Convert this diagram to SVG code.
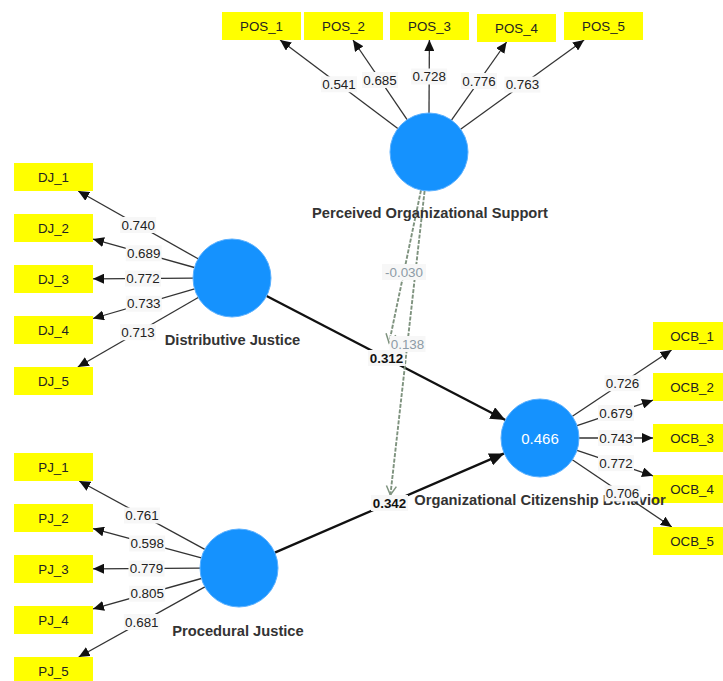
<svg xmlns="http://www.w3.org/2000/svg" width="723" height="681" viewBox="0 0 723 681">
<style>
.ind rect{fill:#ffff00}
.ind text{font-family:"Liberation Sans",Arial,sans-serif;font-size:13.3px;fill:#222;text-anchor:middle}
.lat circle{fill:#1592fe;stroke:#5ab0ff;stroke-width:1}
.lat text.name{font-family:"Liberation Sans",Arial,sans-serif;font-size:14.7px;font-weight:bold;fill:#333;text-anchor:middle}
.lat text.r2{font-family:"Liberation Sans",Arial,sans-serif;font-size:15px;fill:#fff;text-anchor:middle}
.ld{stroke:#333;stroke-width:1.3;fill:none;marker-end:url(#ah)}
.st{stroke:#111;stroke-width:2.3;fill:none;marker-end:url(#ahb)}
.md{stroke:#7f937f;stroke-width:1.9;stroke-dasharray:4 1.5;fill:none;marker-end:url(#aho)}
.lb rect{fill:#f7f7f7}
.lb text{font-family:"Liberation Sans",Arial,sans-serif;font-size:13.4px;fill:#222;text-anchor:middle}
.lb text.b{font-weight:bold;fill:#111}
.lb text.g{fill:#8d9ba6}
</style>
<defs>
<marker id="ah" markerUnits="userSpaceOnUse" markerWidth="12" markerHeight="10" refX="11" refY="5" orient="auto"><path d="M0,0 L11,5 L0,10 Z" fill="#111"/></marker>
<marker id="ahb" markerUnits="userSpaceOnUse" markerWidth="16" markerHeight="13" refX="15" refY="6.5" orient="auto"><path d="M0,0 L15,6.5 L0,13 Z" fill="#111"/></marker>
<marker id="aho" markerUnits="userSpaceOnUse" markerWidth="12" markerHeight="12" refX="10" refY="6" orient="auto"><path d="M1,1 L10,6 L1,11" fill="none" stroke="#7f937f" stroke-width="1.5"/></marker>
</defs>
<rect width="723" height="681" fill="#fff"/>
<g id="connectors">
<line class="ld" x1="397.8" y1="128.6" x2="280.1" y2="40"/>
<line class="ld" x1="407.1" y1="119.7" x2="353" y2="40"/>
<line class="ld" x1="429" y1="113" x2="429.4" y2="40"/>
<line class="ld" x1="451.5" y1="120.1" x2="506.6" y2="42"/>
<line class="ld" x1="460.6" y1="129.2" x2="584.1" y2="40"/>
<line class="ld" x1="198.1" y1="258.8" x2="78.2" y2="191"/>
<line class="ld" x1="194.4" y1="267.5" x2="93" y2="239.1"/>
<line class="ld" x1="193" y1="278.2" x2="93" y2="278.8"/>
<line class="ld" x1="194.6" y1="288.9" x2="93" y2="318.5"/>
<line class="ld" x1="198.2" y1="297.5" x2="77.8" y2="367"/>
<line class="ld" x1="204.8" y1="549.4" x2="79.2" y2="481"/>
<line class="ld" x1="201.3" y1="557.9" x2="93" y2="528.6"/>
<line class="ld" x1="200" y1="568.2" x2="93" y2="568.8"/>
<line class="ld" x1="201.4" y1="578.5" x2="93" y2="608.9"/>
<line class="ld" x1="204.9" y1="586.9" x2="78.7" y2="657"/>
<line class="ld" x1="572.4" y1="416.3" x2="671.6" y2="350"/>
<line class="ld" x1="577" y1="425.6" x2="653" y2="400.2"/>
<line class="ld" x1="579" y1="438" x2="653" y2="438"/>
<line class="ld" x1="577" y1="450.4" x2="653" y2="475.8"/>
<line class="ld" x1="572.3" y1="459.8" x2="671.8" y2="527"/>
<line class="st" x1="266.6" y1="296" x2="505.4" y2="420"/>
<line class="st" x1="274.8" y1="552.6" x2="504.2" y2="453.4"/>
<line class="md" x1="421" y1="190.2" x2="389.1" y2="343"/>
<line class="md" x1="424.6" y1="190.8" x2="390.4" y2="495"/>
</g>
<g id="POS_1" class="ind"><rect x="222" y="12" width="79" height="28"/><text x="261.5" y="31">POS_1</text></g>
<g id="POS_2" class="ind"><rect x="304" y="12" width="79" height="28"/><text x="343.5" y="31">POS_2</text></g>
<g id="POS_3" class="ind"><rect x="390" y="12" width="79" height="28"/><text x="429.5" y="31">POS_3</text></g>
<g id="POS_4" class="ind"><rect x="477" y="14" width="79" height="28"/><text x="516.5" y="33">POS_4</text></g>
<g id="POS_5" class="ind"><rect x="564" y="12" width="79" height="28"/><text x="603.5" y="31">POS_5</text></g>
<g id="DJ_1" class="ind"><rect x="14" y="163" width="79" height="28"/><text x="53.5" y="182">DJ_1</text></g>
<g id="DJ_2" class="ind"><rect x="14" y="214" width="79" height="28"/><text x="53.5" y="233">DJ_2</text></g>
<g id="DJ_3" class="ind"><rect x="14" y="265" width="79" height="28"/><text x="53.5" y="284">DJ_3</text></g>
<g id="DJ_4" class="ind"><rect x="14" y="316" width="79" height="28"/><text x="53.5" y="335">DJ_4</text></g>
<g id="DJ_5" class="ind"><rect x="14" y="367" width="79" height="28"/><text x="53.5" y="386">DJ_5</text></g>
<g id="PJ_1" class="ind"><rect x="14" y="453" width="79" height="28"/><text x="53.5" y="472">PJ_1</text></g>
<g id="PJ_2" class="ind"><rect x="14" y="504" width="79" height="28"/><text x="53.5" y="523">PJ_2</text></g>
<g id="PJ_3" class="ind"><rect x="14" y="555" width="79" height="28"/><text x="53.5" y="574">PJ_3</text></g>
<g id="PJ_4" class="ind"><rect x="14" y="606" width="79" height="28"/><text x="53.5" y="625">PJ_4</text></g>
<g id="PJ_5" class="ind"><rect x="14" y="657" width="79" height="28"/><text x="53.5" y="676">PJ_5</text></g>
<g id="OCB_1" class="ind"><rect x="653" y="322" width="79" height="28"/><text x="692" y="341">OCB_1</text></g>
<g id="OCB_2" class="ind"><rect x="653" y="373" width="79" height="28"/><text x="692" y="392">OCB_2</text></g>
<g id="OCB_3" class="ind"><rect x="653" y="424" width="79" height="28"/><text x="692" y="443">OCB_3</text></g>
<g id="OCB_4" class="ind"><rect x="653" y="475" width="79" height="28"/><text x="692" y="494">OCB_4</text></g>
<g id="OCB_5" class="ind"><rect x="653" y="527" width="79" height="28"/><text x="692" y="546">OCB_5</text></g>
<g id="POS" class="lat"><circle cx="429" cy="152" r="39"/><text class="name" x="430" y="218">Perceived Organizational Support</text></g>
<g id="DJ" class="lat"><circle cx="232" cy="278" r="39"/><text class="name" x="232.5" y="345">Distributive Justice</text></g>
<g id="PJ" class="lat"><circle cx="239" cy="568" r="39"/><text class="name" x="238" y="636">Procedural Justice</text></g>
<g id="OCB" class="lat"><circle cx="540" cy="438" r="39"/><text class="r2" x="540" y="443.5">0.466</text><text class="name" x="540" y="505">Organizational Citizenship Behavior</text></g>
<g id="connector-labels" class="lb">
<rect x="321" y="76.3" width="36" height="16"/><text x="339" y="89">0.541</text>
<rect x="362" y="72" width="36" height="16"/><text x="380" y="84.7">0.685</text>
<rect x="411.2" y="68.5" width="36" height="16"/><text x="429.2" y="81.2">0.728</text>
<rect x="461" y="73" width="36" height="16"/><text x="479" y="85.7">0.776</text>
<rect x="504.4" y="76.6" width="36" height="16"/><text x="522.4" y="89.3">0.763</text>
<rect x="120.2" y="217" width="36" height="16"/><text x="138.2" y="229.7">0.740</text>
<rect x="125.7" y="245.3" width="36" height="16"/><text x="143.7" y="258">0.689</text>
<rect x="125" y="270.5" width="36" height="16"/><text x="143" y="283.2">0.772</text>
<rect x="125.8" y="295.7" width="36" height="16"/><text x="143.8" y="308.4">0.733</text>
<rect x="120" y="324.2" width="36" height="16"/><text x="138" y="336.9">0.713</text>
<rect x="124" y="507.5" width="36" height="16"/><text x="142" y="520.2">0.761</text>
<rect x="129.2" y="535.5" width="36" height="16"/><text x="147.2" y="548.2">0.598</text>
<rect x="128.5" y="560.5" width="36" height="16"/><text x="146.5" y="573.2">0.779</text>
<rect x="129.2" y="585.7" width="36" height="16"/><text x="147.2" y="598.4">0.805</text>
<rect x="123.8" y="614" width="36" height="16"/><text x="141.8" y="626.7">0.681</text>
<rect x="604.5" y="375.2" width="36" height="16"/><text x="622.5" y="387.9">0.726</text>
<rect x="598" y="405" width="36" height="16"/><text x="616" y="417.7">0.679</text>
<rect x="598" y="430" width="36" height="16"/><text x="616" y="442.7">0.743</text>
<rect x="598" y="455.2" width="36" height="16"/><text x="616" y="467.9">0.772</text>
<rect x="604.5" y="485.4" width="36" height="16"/><text x="622.5" y="498.1">0.706</text>
<rect x="368" y="350" width="37" height="16"/><text class="b" x="386.5" y="362.7">0.312</text>
<rect x="371" y="495" width="37" height="16"/><text class="b" x="389.5" y="507.7">0.342</text>
<rect x="382" y="264" width="44" height="16"/><text class="g" x="404" y="276.7">-0.030</text>
<rect x="389.5" y="336" width="36" height="16"/><text class="g" x="407.5" y="348.7">0.138</text>
</g>
</svg>
